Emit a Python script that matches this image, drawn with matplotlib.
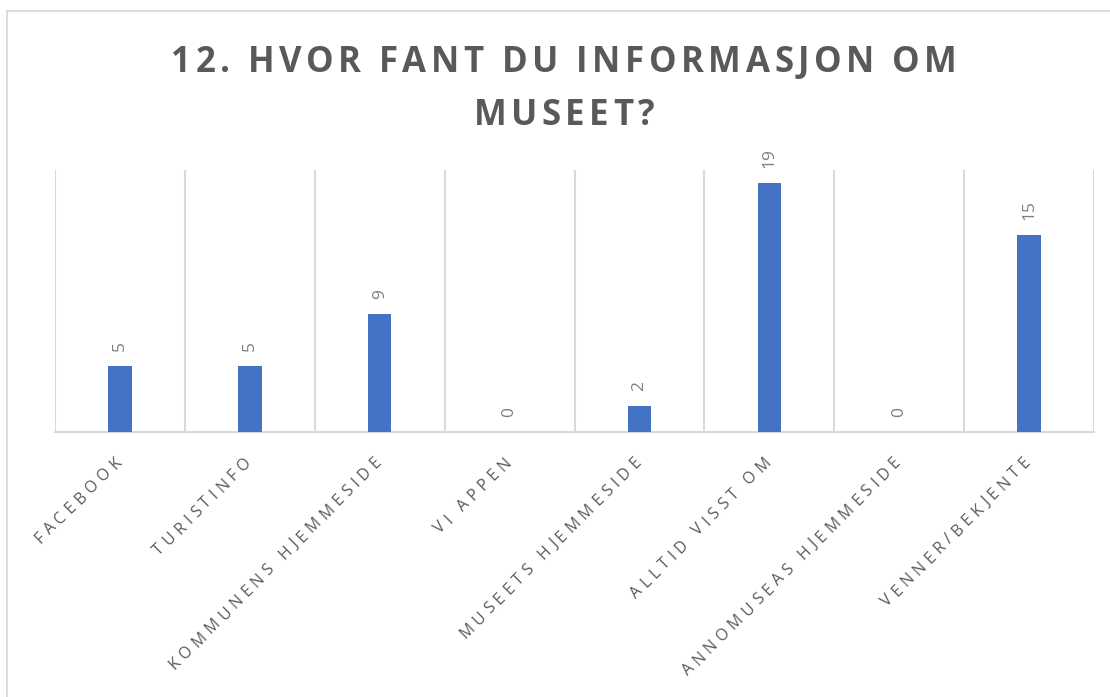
import math
import matplotlib
matplotlib.use("Agg")
import matplotlib.pyplot as plt
from matplotlib.patches import Rectangle
from matplotlib.font_manager import FontProperties, findfont, get_font

categories = ["FACEBOOK", "TURISTINFO", "KOMMUNENS HJEMMESIDE", "VI APPEN",
              "MUSEETS HJEMMESIDE", "ALLTID VISST OM", "ANNOMUSEAS HJEMMESIDE",
              "VENNER/BEKJENTE"]
values = [5, 5, 9, 0, 2, 19, 0, 15]
title_lines = ["12. HVOR FANT DU INFORMASJON OM", "MUSEET?"]

W, H = 1110, 697
DPI = 100
fig = plt.figure(figsize=(W / DPI, H / DPI), dpi=DPI)
fig.patch.set_facecolor("white")


def advances(s, fp):
    font = get_font(findfont(fp))
    font.set_size(fp.get_size_in_points(), DPI)
    out = []
    for c in s:
        g = font.load_char(ord(c))
        out.append(g.linearHoriAdvance / 65536.0)
    return out


def tracked(x_px, y_px, s, fp, tracking, angle=0.0, align="left", color="k"):
    """Draw string s with extra letter spacing; (x_px, y_px) display coords
    (origin bottom-left) of the baseline point given by align."""
    adv = advances(s, fp)
    total = sum(adv) + tracking * (len(s) - 1)
    c, si = math.cos(math.radians(angle)), math.sin(math.radians(angle))
    if align == "right":
        sx, sy = x_px - total * c, y_px - total * si
    elif align == "center":
        sx, sy = x_px - total / 2 * c, y_px - total / 2 * si
    else:
        sx, sy = x_px, y_px
    d = 0.0
    for ch, a in zip(s, adv):
        px, py = sx + d * c, sy + d * si
        fig.text(px / W, py / H, ch, fontproperties=fp, rotation=angle,
                 rotation_mode="anchor", ha="left", va="baseline", color=color)
        d += a + tracking


# outer chart border
fig.patches.append(Rectangle((7 / W, -0.1), 1.2, 1 - 11 / H + 0.1,
                             transform=fig.transFigure, fill=False,
                             edgecolor="#D9D9D9", linewidth=1.3))

ax = fig.add_axes([55 / W, 1 - 432 / H, (1094 - 55) / W, (432 - 170) / H])
x = list(range(len(categories)))
ax.bar(x, values, width=0.18, color="#4472C4", zorder=3)
ax.set_xlim(-0.5, len(categories) - 0.5)
ax.set_ylim(0, 20)

for s in ["top", "right", "left"]:
    ax.spines[s].set_visible(False)
ax.spines["bottom"].set_color("#D9D9D9")
ax.spines["bottom"].set_linewidth(1.5)
ax.set_yticks([])

ax.set_xticks([i - 0.5 for i in range(len(categories) + 1)], minor=True)
ax.grid(which="minor", axis="x", color="#D9D9D9", linewidth=1.5, zorder=0)
ax.tick_params(axis="x", which="both", length=0)
ax.set_xticks(x)
ax.set_xticklabels([])

# category labels, rotated 45 deg with letter spacing
fp_tick = FontProperties(family="Open Sans", size=11.5)
for xi, lab in zip(x, categories):
    cx, cy = ax.transData.transform((xi, 0))
    tracked(cx + 2, cy - 31, lab, fp_tick, 4.6, angle=45, align="right",
            color="#595959")

# data labels
for xi, v in zip(x, values):
    ax.annotate(str(v), xy=(xi, v), xytext=(0, 11), textcoords="offset points",
                rotation=90, ha="center", va="bottom", fontsize=12.5,
                color="#7F7F7F", family="Open Sans")

# title
fp_title = FontProperties(family="Open Sans", weight="bold", size=25)
tracked(564, H - 72, title_lines[0], fp_title, 4.5, align="center",
        color="#595959")
tracked(564, H - 125, title_lines[1], fp_title, 4.5, align="center",
        color="#595959")

fig.savefig("out.png", dpi=DPI, facecolor="white")
